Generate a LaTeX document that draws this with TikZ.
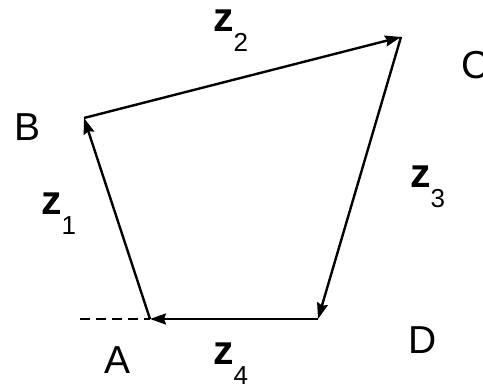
\documentclass[tikz,border=0pt]{standalone}
\usepackage{fontspec}
\setmainfont{Liberation Sans}
\usetikzlibrary{arrows.meta}
\tikzset{
  vec/.style={line width=2.4pt, -{Stealth[length=16pt,width=11pt,inset=2pt]}},
  ptlabel/.style={font=\fontsize{39}{39}\selectfont, inner sep=0pt},
  zlabel/.style={inner sep=0pt, anchor=base west}
}
\newcommand{\zsub}[1]{{\fontsize{41}{41}\selectfont\bfseries z}\raisebox{-20pt}{\fontsize{26}{26}\selectfont #1}}
\begin{document}
\begin{tikzpicture}[x=1pt,y=-1pt]
\useasboundingbox (0,0) rectangle (483,387);
\coordinate (A) at (150,319);
\coordinate (B) at (84,118);
\coordinate (C) at (401,37);
\coordinate (D) at (318,319);
\coordinate (Aleft) at (80,319);
\draw[line width=2pt, dash pattern=on 10pt off 6pt] (Aleft) -- (A);
\draw[vec] (A) -- (B);
\draw[vec] (B) -- (C);
\draw[vec] (C) -- (D);
\draw[vec] (D) -- (A);
\node[ptlabel] (lA) at (118,360) {A};
\node[ptlabel] (lB) at (28,127) {B};
\node[ptlabel] (lC) at (476,65) {C};
\node[ptlabel] (lD) at (423,340) {D};
\node[zlabel] (z1) at (41,215) {\zsub{1}};
\node[zlabel] (z2) at (213,32) {\zsub{2}};
\node[zlabel] (z3) at (410,188) {\zsub{3}};
\node[zlabel] (z4) at (213,365) {\zsub{4}};
\end{tikzpicture}
\end{document}
